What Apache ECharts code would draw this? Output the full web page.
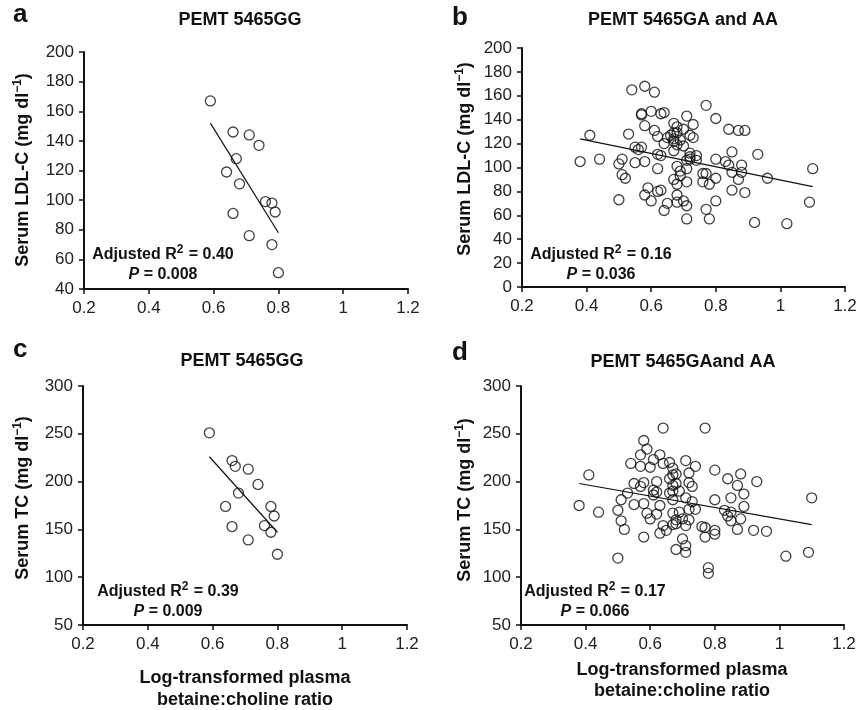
<!DOCTYPE html>
<html>
<head>
<meta charset="utf-8">
<script src="https://cdn.jsdelivr.net/npm/echarts@6/dist/echarts.min.js"></script>
<style>
html,body{margin:0;padding:0;background:#fff;}
#main{width:856px;height:710px;}
</style>
</head>
<body>
<div id="main"></div>
<script>
// [ratio, value] pairs
var ldlGG = [[0.59,167],[0.66,146],[0.71,144],[0.74,137],[0.67,128],[0.64,119],[0.68,111],
  [0.76,99],[0.78,98],[0.79,92],[0.66,91],[0.71,76],[0.78,70],[0.80,51]];
var ldlGA = [[0.38,105],[0.41,127],[0.44,107],[0.50,103],[0.51,107],[0.51,94],[0.52,91],[0.50,73],
  [0.53,128],[0.54,165],[0.55,117],[0.56,115],[0.57,117],[0.55,104],[0.57,145],[0.57,144],[0.58,135],
  [0.58,105],[0.58,168],[0.61,163],[0.60,147],[0.61,131],[0.62,126],[0.63,145],[0.64,146],[0.62,111],
  [0.63,110],[0.62,99],[0.59,83],[0.58,77],[0.62,80],[0.63,81],[0.60,72],[0.64,64],[0.65,70],[0.64,120],
  [0.66,127],[0.67,137],[0.68,134],[0.67,129],[0.67,124],[0.67,114],[0.68,119],[0.69,123],[0.70,132],
  [0.71,143],[0.73,136],[0.72,127],[0.73,125],[0.68,101],[0.69,97],[0.71,99],[0.71,106],[0.72,112],
  [0.72,107],[0.74,110],[0.74,106],[0.67,90],[0.68,86],[0.71,88],[0.68,77],[0.68,71],[0.70,72],
  [0.71,68],[0.71,57],[0.77,152],[0.80,141],[0.76,95],[0.77,95],[0.76,88],[0.78,86],[0.80,91],
  [0.80,107],[0.77,65],[0.78,57],[0.80,72],[0.84,132],[0.87,131],[0.89,131],[0.85,113],[0.83,105],
  [0.84,102],[0.85,96],[0.88,102],[0.88,96],[0.87,90],[0.85,81],[0.89,79],[0.93,111],[0.96,91],
  [0.92,54],[1.02,53],[1.09,71],[1.10,99],[0.68,129],[0.67,122],[0.69,93],[0.72,109],[0.65,125],[0.70,118]];
var tcGG = [[0.59,251],[0.66,222],[0.67,216],[0.71,213],[0.74,197],[0.68,188],[0.64,174],
  [0.78,174],[0.79,164],[0.76,154],[0.66,153],[0.78,147],[0.71,139],[0.80,124]];
var tcGA = [[0.38,175],[0.41,207],[0.44,168],[0.50,170],[0.51,181],[0.53,188],[0.51,159],[0.52,150],
  [0.50,120],[0.54,219],[0.55,198],[0.55,176],[0.58,243],[0.59,234],[0.57,228],[0.63,228],[0.61,223],
  [0.57,216],[0.60,215],[0.64,219],[0.66,220],[0.71,222],[0.74,216],[0.67,214],[0.67,207],[0.72,209],
  [0.68,208],[0.64,256],[0.77,256],[0.58,199],[0.57,195],[0.62,200],[0.66,203],[0.67,196],[0.68,198],
  [0.72,199],[0.73,195],[0.61,191],[0.62,189],[0.66,188],[0.67,190],[0.69,190],[0.61,186],[0.67,181],
  [0.71,183],[0.58,177],[0.63,175],[0.73,179],[0.74,171],[0.72,171],[0.69,168],[0.67,167],[0.59,167],
  [0.62,166],[0.60,161],[0.68,160],[0.70,161],[0.72,160],[0.64,154],[0.65,149],[0.63,146],[0.68,156],
  [0.67,155],[0.71,154],[0.76,153],[0.77,152],[0.80,149],[0.80,145],[0.77,142],[0.58,142],[0.70,140],
  [0.71,133],[0.68,129],[0.71,126],[0.78,110],[0.78,104],[0.80,212],[0.84,203],[0.88,208],[0.87,196],
  [0.93,200],[0.89,187],[0.85,183],[0.80,181],[0.89,174],[0.83,170],[0.85,168],[0.84,164],[0.85,159],
  [0.88,161],[0.87,150],[0.92,149],[0.96,148],[1.02,122],[1.09,126],[1.10,183]];
// regression line end points
var fitA = [[0.59,152],[0.80,78]];
var fitB = [[0.38,124],[1.10,84]];
var fitC = [[0.59,226],[0.80,147]];
var fitD = [[0.38,198],[1.10,155]];

var titles = ['PEMT 5465GG','PEMT 5465GA and AA','PEMT 5465GG','PEMT 5465GAand AA'];
var letters = ['a','b','c','d'];
var r2Text = ['0.40','0.16','0.39','0.17'];
var pText = ['0.008','0.036','0.009','0.066'];
var yMin = [40,0,50,50], yMax = [200,200,300,300], yStep = [20,20,50,50];

var FONT = 'Liberation Sans, Arial, sans-serif';
var chart = echarts.init(document.getElementById('main'));

var grids = [
  {left:84, top:52, width:324, height:237},
  {left:522, top:48, width:323, height:239},
  {left:83, top:386, width:324, height:239},
  {left:521, top:386, width:323, height:239}
];
grids.forEach(function(g){ g.outerBoundsMode = 'none'; });

var xAxes = [], yAxes = [], series = [];
for (var i = 0; i < 4; i++) {
  xAxes.push({
    gridIndex:i, type:'value', min:0.2, max:1.2, interval:0.2,
    axisLine:{lineStyle:{color:'#111', width:2}},
    axisTick:{inside:false, length:5, lineStyle:{color:'#111', width:1.5}},
    axisLabel:{margin:11, fontSize:17, color:'#222', fontFamily:FONT,
      formatter:function(v){ return String(+v.toFixed(1)); }},
    splitLine:{show:false}
  });
  yAxes.push({
    gridIndex:i, type:'value', min:yMin[i], max:yMax[i], interval:yStep[i],
    axisLine:{show:true, lineStyle:{color:'#111', width:2}},
    axisTick:{show:true, length:5, lineStyle:{color:'#111', width:1.5}},
    axisLabel:{margin:10, fontSize:17, color:'#222', fontFamily:FONT},
    splitLine:{show:false}
  });
}
var sets = [ldlGG, ldlGA, tcGG, tcGA];
var fits = [fitA, fitB, fitC, fitD];
for (var j = 0; j < 4; j++) {
  series.push({
    type:'line', xAxisIndex:j, yAxisIndex:j, data:fits[j], symbol:'none',
    lineStyle:{color:'#111', width:1.2}, silent:true, z:1
  });
  series.push({
    type:'scatter', xAxisIndex:j, yAxisIndex:j, data:sets[j], symbol:'circle', symbolSize:10,
    itemStyle:{color:'rgba(0,0,0,0)', borderColor:'#111', borderWidth:1.3}, z:2
  });
}

var boldRich = {
  b:{fontSize:16, fontWeight:'bold', fontFamily:FONT, fill:'#111', verticalAlign:'bottom'},
  sup:{fontSize:12, fontWeight:'bold', fontFamily:FONT, fill:'#111', verticalAlign:'bottom', padding:[0,1,7,0]},
  i:{fontSize:16, fontWeight:'bold', fontStyle:'italic', fontFamily:FONT, fill:'#111', verticalAlign:'bottom'}
};
var nameRich = {
  a:{fontSize:18, fontWeight:'bold', fontFamily:FONT, fill:'#111', verticalAlign:'bottom'},
  s:{fontSize:12, fontWeight:'bold', fontFamily:FONT, fill:'#111', verticalAlign:'bottom', padding:[0,0,8,0]}
};

var graphics = [];
var letterPos = [[13,28],[452,31],[13,363],[452,366]];
var titlePos = [[240,20],[683,20],[242,361],[683,362]];
var annPos = [[163,255,275],[601,255,275],[168,592,612],[595,592,612]];
var yNames = ['Serum LDL-C (mg dl','Serum LDL-C (mg dl','Serum TC (mg dl','Serum TC (mg dl'];
var yNamePos = [[22,170],[464,159],[22,498],[464,500]];
for (var k = 0; k < 4; k++) {
  graphics.push({type:'text', x:letterPos[k][0], y:letterPos[k][1],
    style:{text:letters[k], font:'bold 26px ' + FONT, fill:'#111', textAlign:'left', textVerticalAlign:'bottom'}});
  graphics.push({type:'text', x:titlePos[k][0], y:titlePos[k][1],
    style:{text:titles[k], font:'bold 18px ' + FONT, fill:'#111', textAlign:'center', textVerticalAlign:'middle'}});
  graphics.push({type:'text', x:annPos[k][0], y:annPos[k][1] + 8,
    style:{text:'{b|Adjusted R}{sup|2}{b| = ' + r2Text[k] + '}', rich:boldRich, textAlign:'center', textVerticalAlign:'bottom'}});
  graphics.push({type:'text', x:annPos[k][0], y:annPos[k][2] + 8,
    style:{text:'{i|P}{b| = ' + pText[k] + '}', rich:boldRich, textAlign:'center', textVerticalAlign:'bottom'}});
  graphics.push({type:'text', x:yNamePos[k][0], y:yNamePos[k][1], rotation:Math.PI/2,
    style:{text:'{a|' + yNames[k] + '}{s|\u22121}{a|)}', rich:nameRich, textAlign:'center', textVerticalAlign:'middle'}});
}
var xNamePos = [[245,678,700],[682,670,691]];
xNamePos.forEach(function(p){
  graphics.push({type:'text', x:p[0], y:p[1],
    style:{text:'Log-transformed plasma', font:'bold 18px ' + FONT, fill:'#111', textAlign:'center', textVerticalAlign:'middle'}});
  graphics.push({type:'text', x:p[0], y:p[2],
    style:{text:'betaine:choline ratio', font:'bold 18px ' + FONT, fill:'#111', textAlign:'center', textVerticalAlign:'middle'}});
});

chart.setOption({
  animation:false,
  backgroundColor:'#fff',
  grid:grids,
  xAxis:xAxes,
  yAxis:yAxes,
  series:series,
  graphic:graphics
});
</script>
</body>
</html>
